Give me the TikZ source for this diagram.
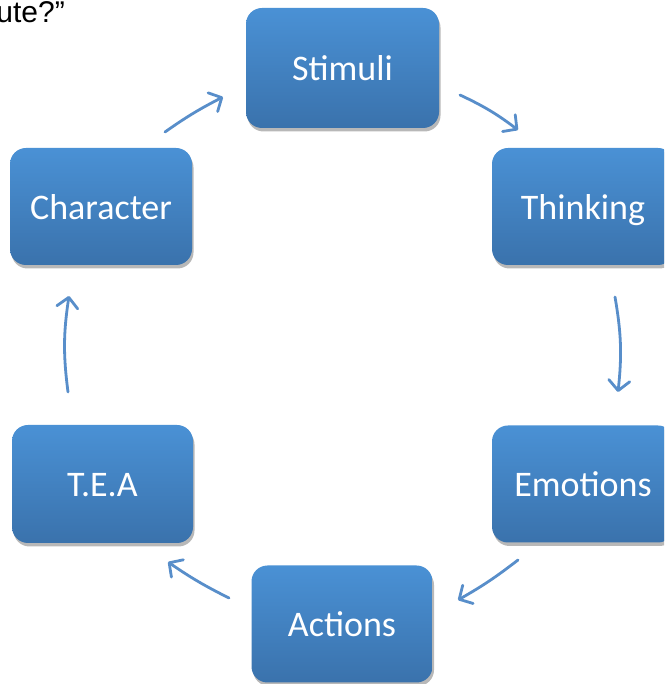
\documentclass[tikz,border=0pt]{standalone}
\usepackage{fontspec}
\setmainfont{Carlito}
\newfontfamily\arialf{Liberation Sans}
\usetikzlibrary{arrows.meta,shadows}
\definecolor{boxtop}{RGB}{74,145,213}
\definecolor{boxbot}{RGB}{58,114,172}
\definecolor{arr}{RGB}{88,142,202}
\tikzset{
  cyclebox/.style={rounded corners=16pt, top color=boxtop, bottom color=boxbot,
    draw=none, text=white, font=\fontsize{36}{40}\selectfont,
    text height=26pt, text depth=0pt,
    inner sep=0pt, drop shadow={shadow xshift=1.5pt, shadow yshift=-3.5pt, opacity=0.28, fill=black}},
  cyclearrow/.style={draw=arr, line width=2.8pt, line cap=round,
    -{Straight Barb[length=10pt,width=21pt,line width=2.8pt,round]}}
}
\begin{document}
\begin{tikzpicture}[x=1pt,y=1pt]
\useasboundingbox (0,0) rectangle (664,684);
\clip (0,0) rectangle (664,684);
\fill[white] (0,0) rectangle (664,684);
\node[anchor=base east, font=\arialf\fontsize{30}{32}\selectfont, inner sep=0pt] (q) at (65,661) {ute?”};
\node[cyclebox, minimum width=193pt, minimum height=120pt] (stim) at (342.5,616) {Stimuli};
\node[cyclebox, minimum width=182pt, minimum height=117pt] (think) at (583,477.5) {Thinking};
\node[cyclebox, minimum width=182pt, minimum height=117pt] (emo) at (583,200) {Emotions};
\node[cyclebox, minimum width=181pt, minimum height=117pt] (act) at (342,60) {Actions};
\node[cyclebox, minimum width=181pt, minimum height=118pt] (tea) at (102.5,200) {T.E.A};
\node[cyclebox, minimum width=182pt, minimum height=117pt] (char) at (101,477.5) {Character};
\coordinate (a1s) at (460,589); \coordinate (a1e) at (518,554);
\coordinate (a2s) at (615,387); \coordinate (a2e) at (618,292);
\coordinate (a3s) at (518,124); \coordinate (a3e) at (458,84);
\coordinate (a4s) at (229,86);  \coordinate (a4e) at (168,122);
\coordinate (a5s) at (68,292);  \coordinate (a5e) at (69,388);
\coordinate (a6s) at (165,552); \coordinate (a6e) at (223,587);
\draw[cyclearrow] (a1s) to[bend left=6] (a1e);
\draw[cyclearrow] (a2s) to[bend left=8] (a2e);
\draw[cyclearrow] (a3s) to[bend left=4] (a3e);
\draw[cyclearrow] (a4s) to[bend left=4] (a4e);
\draw[cyclearrow] (a5s) to[bend left=8] (a5e);
\draw[cyclearrow] (a6s) to[bend left=4] (a6e);
\end{tikzpicture}
\end{document}
